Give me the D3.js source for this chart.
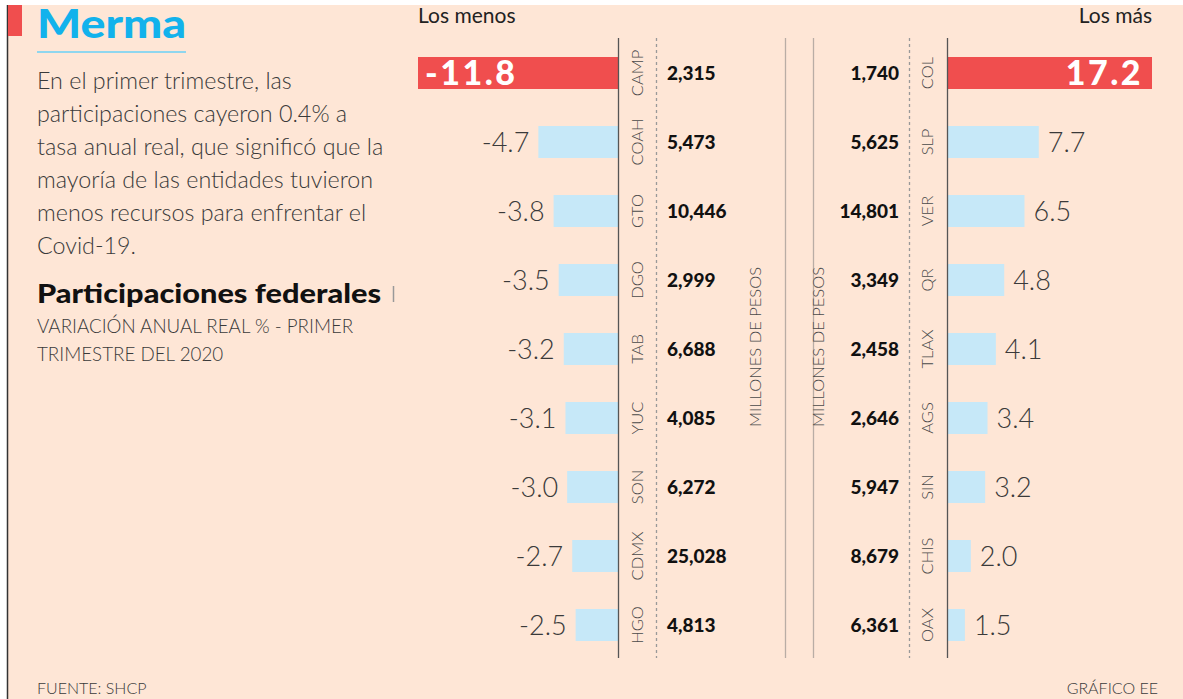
<!DOCTYPE html>
<html lang="es">
<head>
<meta charset="UTF-8">
<script src="https://d3js.org/d3.v7.min.js"></script>
<style>
  html, body { margin: 0; padding: 0; background: #fff; }
  svg { display: block; font-family: Lato, "Open Sans", sans-serif; }
  .light { font-weight: 300; fill: #3a3a3a; }
  .code { font-weight: 300; fill: #4a4a4a; font-size: 16.5px; }
  .mill { font-weight: 900; fill: #111; font-size: 19px; }
</style>
</head>
<body>
<svg id="chart" width="1183" height="699"></svg>
<script>
// Los menos (caída)
const menosEstados = ["CAMP", "COAH", "GTO", "DGO", "TAB", "YUC", "SON", "CDMX", "HGO"];
const menosVariacion = [-11.8, -4.7, -3.8, -3.5, -3.2, -3.1, -3.0, -2.7, -2.5];
const menosMillones = ["2,315", "5,473", "10,446", "2,999", "6,688", "4,085", "6,272", "25,028", "4,813"];

// Los más (alza)
const masEstados = ["COL", "SLP", "VER", "QR", "TLAX", "AGS", "SIN", "CHIS", "OAX"];
const masVariacion = [17.2, 7.7, 6.5, 4.8, 4.1, 3.4, 3.2, 2.0, 1.5];
const masMillones = ["1,740", "5,625", "14,801", "3,349", "2,458", "2,646", "5,947", "8,679", "6,361"];

const W = 1183, H = 699;
const bg = "#fee6d6", red = "#f04e4e", blue = "#c6e8f8", lineGray = "#b9ada5";

const svg = d3.select("#chart");
svg.append("rect").attr("width", W).attr("height", H).attr("fill", "#fff");
svg.append("rect").attr("x", 7).attr("y", 5).attr("width", W - 7).attr("height", H - 5).attr("fill", bg);
svg.append("line").attr("x1", 7.5).attr("x2", 7.5).attr("y1", 5).attr("y2", H).attr("stroke", "#333").attr("stroke-width", 1.5);
svg.append("rect").attr("x", 8).attr("y", 5).attr("width", 14).attr("height", 31).attr("fill", red);

// titulo y texto
svg.append("text").attr("x", 37).attr("y", 38).attr("font-size", 39).attr("font-weight", 900)
  .attr("fill", "#12b2ec").attr("textLength", 149).attr("lengthAdjust", "spacingAndGlyphs").text("Merma");
svg.append("line").attr("x1", 37).attr("x2", 186).attr("y1", 52).attr("y2", 52)
  .attr("stroke", "#8fd6ee").attr("stroke-width", 2);

const parrafo = ["En el primer trimestre, las", "participaciones cayeron 0.4% a",
  "tasa anual real, que significó que la", "mayoría de las entidades tuvieron",
  "menos recursos para enfrentar el", "Covid-19."];
svg.append("g").selectAll("text").data(parrafo).join("text")
  .attr("class", "light").attr("x", 37).attr("y", (d, i) => 89 + i * 33)
  .attr("font-size", 23.3).text(d => d);

svg.append("text").attr("x", 37).attr("y", 303).attr("font-size", 27).attr("font-weight", 900)
  .attr("fill", "#111").attr("textLength", 344).attr("lengthAdjust", "spacingAndGlyphs")
  .text("Participaciones federales");
svg.append("line").attr("x1", 393.5).attr("x2", 393.5).attr("y1", 286).attr("y2", 302)
  .attr("stroke", "#999").attr("stroke-width", 1.5);
svg.append("g").selectAll("text").data(["VARIACIÓN ANUAL REAL % - PRIMER", "TRIMESTRE DEL 2020"]).join("text")
  .attr("class", "light").attr("x", 37).attr("y", (d, i) => 333 + i * 28)
  .attr("font-size", 18.8).attr("fill", "#555").text(d => d);

svg.append("text").attr("class", "light").attr("x", 37).attr("y", 694).attr("font-size", 16).text("FUENTE: SHCP");
svg.append("text").attr("class", "light").attr("x", 1158).attr("y", 694).attr("font-size", 16)
  .attr("text-anchor", "end").text("GRÁFICO EE");

svg.append("text").attr("x", 418).attr("y", 23).attr("font-size", 21).attr("fill", "#222").text("Los menos");
svg.append("text").attr("x", 1152).attr("y", 23).attr("font-size", 21).attr("fill", "#222")
  .attr("text-anchor", "end").text("Los más");

// escalas
const y = d3.scalePoint().domain(d3.range(9)).range([38.5, 659.5]).padding(0.5);
const barH = 32;
const xL = d3.scaleLinear().domain([-11.8, 0]).range([418, 618]);
const xR = d3.scaleLinear().domain([0, 17.2]).range([947, 1152]);

const menos = menosEstados.map((e, i) => ({ e, v: menosVariacion[i], m: menosMillones[i], i }));
const mas = masEstados.map((e, i) => ({ e, v: masVariacion[i], m: masMillones[i], i }));

// lineas verticales
const yTop = 38, yBottom = 658;
const vlines = [
  { x: 618.5, c: "#555", dash: null },
  { x: 656.5, c: "#999", dash: "3,3" },
  { x: 785.5, c: lineGray, dash: null },
  { x: 813.5, c: lineGray, dash: null },
  { x: 909.5, c: "#999", dash: "3,3" },
  { x: 947.5, c: "#555", dash: null }
];

// barras izquierda
const gL = svg.append("g");
gL.selectAll("rect").data(menos).join("rect")
  .attr("x", d => xL(d.v)).attr("y", d => y(d.i) - barH / 2)
  .attr("width", d => xL(0) - xL(d.v)).attr("height", barH)
  .attr("fill", d => d.i === 0 ? red : blue);
gL.selectAll("text.val").data(menos).join("text")
  .attr("class", "val")
  .attr("x", d => d.i === 0 ? xL(d.v) + 7 : xL(d.v) - 9)
  .attr("y", d => y(d.i)).attr("dy", "0.36em")
  .attr("text-anchor", d => d.i === 0 ? "start" : "end")
  .attr("font-size", d => d.i === 0 ? 34 : 27)
  .attr("font-weight", d => d.i === 0 ? 900 : 300)
  .attr("fill", d => d.i === 0 ? "#fff" : "#3a3a3a")
  .attr("letter-spacing", d => d.i === 0 ? 2.5 : 0)
  .text(d => d.v.toFixed(1));
gL.selectAll("text.code").data(menos).join("text")
  .attr("class", "code")
  .attr("transform", d => `translate(643,${y(d.i)}) rotate(-90)`)
  .attr("text-anchor", "middle").text(d => d.e);
gL.selectAll("text.mill").data(menos).join("text")
  .attr("class", "mill").attr("x", 667).attr("y", d => y(d.i)).attr("dy", "0.36em")
  .text(d => d.m);

// barras derecha
const gR = svg.append("g");
gR.selectAll("rect").data(mas).join("rect")
  .attr("x", xR(0)).attr("y", d => y(d.i) - barH / 2)
  .attr("width", d => xR(d.v) - xR(0)).attr("height", barH)
  .attr("fill", d => d.i === 0 ? red : blue);
gR.selectAll("text.val").data(mas).join("text")
  .attr("class", "val")
  .attr("x", d => d.i === 0 ? xR(d.v) - 9 : xR(d.v) + 9)
  .attr("y", d => y(d.i)).attr("dy", "0.36em")
  .attr("text-anchor", d => d.i === 0 ? "end" : "start")
  .attr("font-size", d => d.i === 0 ? 34 : 27)
  .attr("font-weight", d => d.i === 0 ? 900 : 300)
  .attr("fill", d => d.i === 0 ? "#fff" : "#3a3a3a")
  .attr("letter-spacing", d => d.i === 0 ? 2.5 : 0)
  .text(d => d.v.toFixed(1));
gR.selectAll("text.code").data(mas).join("text")
  .attr("class", "code")
  .attr("transform", d => `translate(933,${y(d.i)}) rotate(-90)`)
  .attr("text-anchor", "middle").text(d => d.e);
gR.selectAll("text.mill").data(mas).join("text")
  .attr("class", "mill").attr("x", 899).attr("y", d => y(d.i)).attr("dy", "0.36em")
  .attr("text-anchor", "end").text(d => d.m);

svg.append("g").selectAll("line").data(vlines).join("line")
  .attr("x1", d => d.x).attr("x2", d => d.x).attr("y1", yTop).attr("y2", yBottom)
  .attr("stroke", d => d.c).attr("stroke-width", 1.3).attr("stroke-dasharray", d => d.dash);

svg.selectAll("text.unid").data([761, 824]).join("text")
  .attr("class", "code unid")
  .attr("transform", d => `translate(${d},347) rotate(-90)`)
  .attr("text-anchor", "middle").attr("font-size", 17.5).text("MILLONES DE PESOS");
</script>
</body>
</html>
